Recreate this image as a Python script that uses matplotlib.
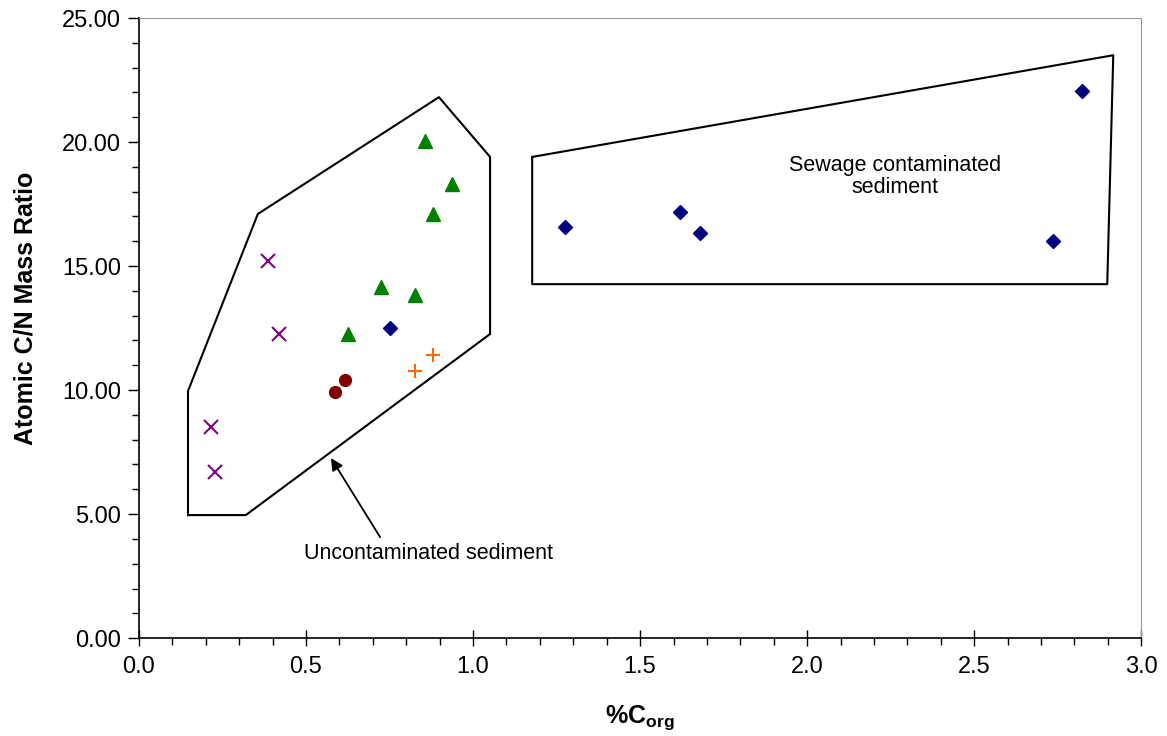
import matplotlib
matplotlib.use("Agg")
import matplotlib.pyplot as plt
from matplotlib.ticker import MultipleLocator, FormatStrFormatter

plt.rcParams["font.family"] = ["Liberation Sans", "DejaVu Sans"]
plt.rcParams["mathtext.fontset"] = "custom"
plt.rcParams["mathtext.bf"] = "Liberation Sans:bold"
plt.rcParams["mathtext.rm"] = "Liberation Sans"

# data
x_purple = [0.386, 0.419, 0.216, 0.228]
y_purple = [15.2, 12.26, 8.5, 6.69]

x_green = [0.856, 0.937, 0.880, 0.725, 0.826, 0.626]
y_green = [20.05, 18.3, 17.1, 14.15, 13.83, 12.25]

x_blue = [0.751, 1.275, 1.62, 1.68, 2.737, 2.823]
y_blue = [12.5, 16.57, 17.18, 16.33, 16.0, 22.06]

x_red = [0.587, 0.617]
y_red = [9.92, 10.4]

x_orange = [0.826, 0.880]
y_orange = [10.77, 11.41]

# outline polygons
uncont_x = [0.147, 0.320, 1.051, 1.051, 0.898, 0.356, 0.147, 0.147]
uncont_y = [4.96, 4.96, 12.26, 19.4, 21.81, 17.1, 9.96, 4.96]

sewage_x = [1.177, 2.916, 2.898, 1.177, 1.177]
sewage_y = [19.4, 23.5, 14.27, 14.27, 19.4]

fig = plt.figure(figsize=(11.67, 7.36), dpi=100)
ax = fig.add_axes([0.119, 0.133, 0.859, 0.8425])

ax.plot(uncont_x, uncont_y, color="black", lw=1.5, zorder=2)
ax.plot(sewage_x, sewage_y, color="black", lw=1.5, zorder=2)

ax.plot(x_purple, y_purple, "x", color="#800080", ms=9.5, mew=1.5, ls="none", zorder=3)
ax.plot(x_green, y_green, "^", color="#008000", ms=9.5, ls="none", zorder=3)
ax.plot(x_blue, y_blue, "D", color="#000080", ms=7.2, ls="none", zorder=3)
ax.plot(x_red, y_red, "o", color="#800000", ms=8.5, ls="none", zorder=3)
ax.plot(x_orange, y_orange, "+", color="#FF6600", ms=10, mew=1.5, ls="none", zorder=3)

# arrow and labels
ax.annotate("", xy=(0.575, 7.26), xytext=(0.722, 4.07),
            arrowprops=dict(arrowstyle="-|>", color="black", lw=1.3,
                            shrinkA=0, shrinkB=0, mutation_scale=18))
ax.text(0.868, 3.43, "Uncontaminated sediment", ha="center", va="center", fontsize=15.5)
ax.text(2.263, 18.6, "Sewage contaminated\nsediment", ha="center", va="center",
        fontsize=15.5, linespacing=1.05)

ax.set_xlim(0, 3.0)
ax.set_ylim(0, 25)
ax.xaxis.set_major_locator(MultipleLocator(0.5))
ax.xaxis.set_minor_locator(MultipleLocator(0.1))
ax.yaxis.set_major_locator(MultipleLocator(5))
ax.yaxis.set_minor_locator(MultipleLocator(1))
ax.xaxis.set_major_formatter(FormatStrFormatter("%.1f"))
ax.yaxis.set_major_formatter(FormatStrFormatter("%.2f"))

ax.tick_params(axis="x", which="major", direction="inout", length=12, width=1, labelsize=17, pad=7)
ax.tick_params(axis="x", which="minor", direction="out", length=5, width=1)
ax.tick_params(axis="y", which="major", direction="out", length=8, width=1, labelsize=17, pad=5)
ax.tick_params(axis="y", which="minor", direction="out", length=5, width=1)

ax.spines["left"].set_color("black")
ax.spines["bottom"].set_color("black")
ax.spines["left"].set_linewidth(1.2)
ax.spines["bottom"].set_linewidth(1.2)
ax.spines["top"].set_color("#999999")
ax.spines["right"].set_color("#999999")

ax.set_ylabel("Atomic C/N Mass Ratio", fontsize=18, fontweight="bold")
ax.yaxis.set_label_coords(-0.101, 0.532)
ax.set_xlabel(r"$\mathbf{\%C_{org}}$", fontsize=18, labelpad=18)

fig.savefig("out.png", dpi=100)
